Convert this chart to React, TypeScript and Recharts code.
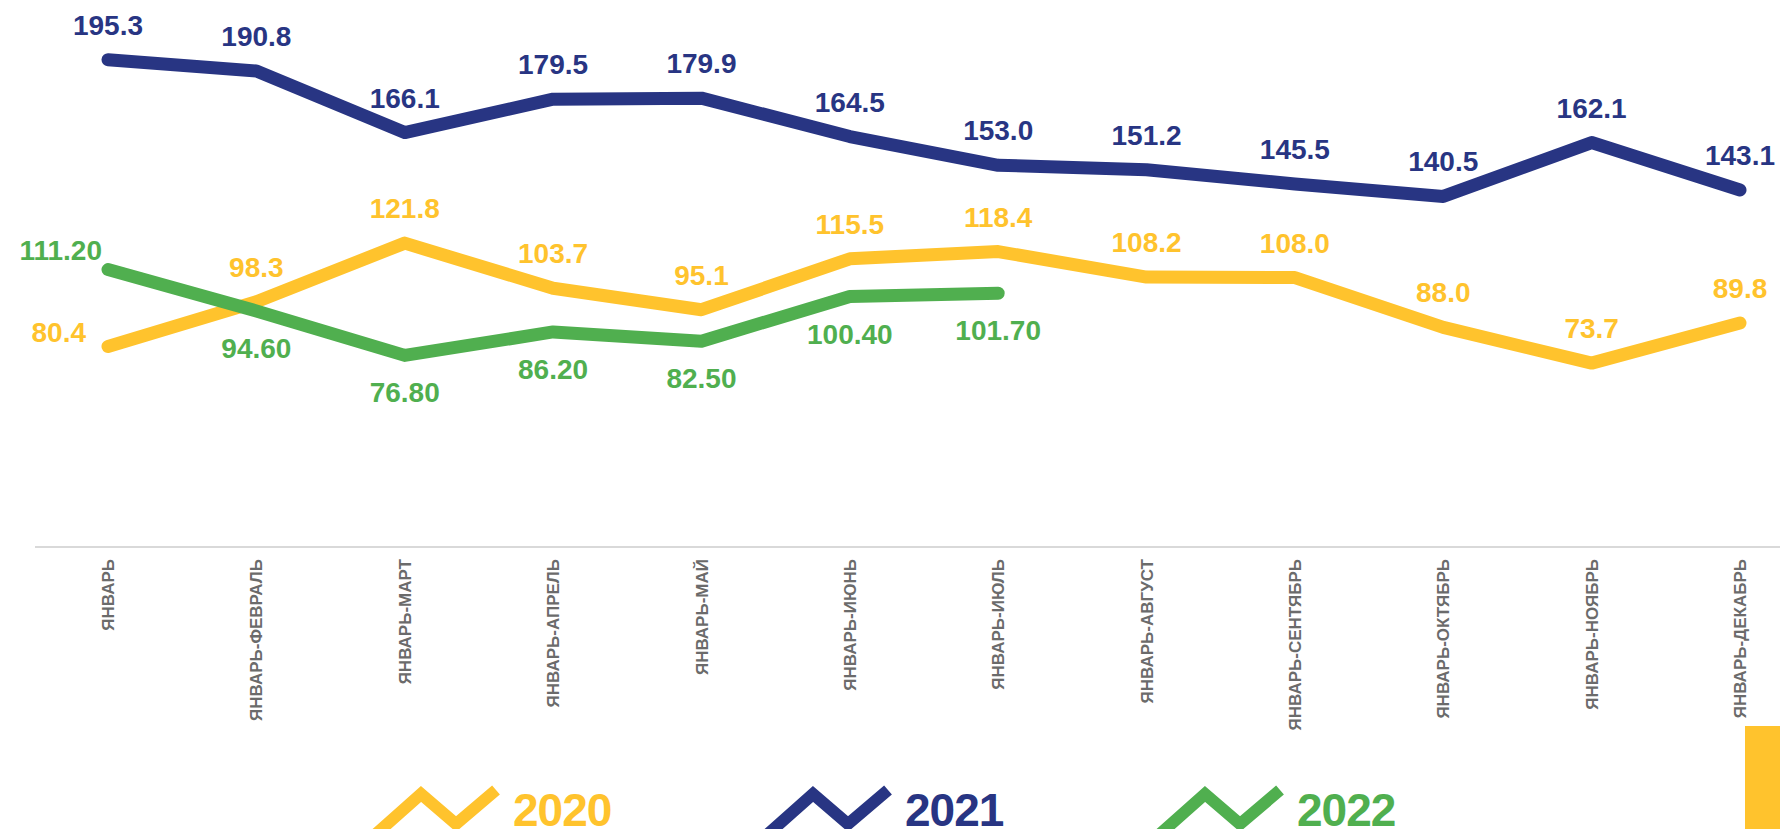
import React from 'react';
import { LineChart, Line, XAxis, YAxis } from 'recharts';

const CATEGORIES = [
  'ЯНВАРЬ',
  'ЯНВАРЬ-ФЕВРАЛЬ',
  'ЯНВАРЬ-МАРТ',
  'ЯНВАРЬ-АПРЕЛЬ',
  'ЯНВАРЬ-МАЙ',
  'ЯНВАРЬ-ИЮНЬ',
  'ЯНВАРЬ-ИЮЛЬ',
  'ЯНВАРЬ-АВГУСТ',
  'ЯНВАРЬ-СЕНТЯБРЬ',
  'ЯНВАРЬ-ОКТЯБРЬ',
  'ЯНВАРЬ-НОЯБРЬ',
  'ЯНВАРЬ-ДЕКАБРЬ',
];

const VALUES_2020 = [80.4, 98.3, 121.8, 103.7, 95.1, 115.5, 118.4, 108.2, 108.0, 88.0, 73.7, 89.8];
const VALUES_2021 = [195.3, 190.8, 166.1, 179.5, 179.9, 164.5, 153.0, 151.2, 145.5, 140.5, 162.1, 143.1];
const VALUES_2022 = [111.2, 94.6, 76.8, 86.2, 82.5, 100.4, 101.7];

const FONT = '"Liberation Sans", Arial, Helvetica, sans-serif';

const SERIES = [
  { key: 'y2020', name: '2020', color: '#FFC32D', values: VALUES_2020, digits: 1, place: 'top', leftGap: 22, leftDy: -4 },
  { key: 'y2021', name: '2021', color: '#283583', values: VALUES_2021, digits: 1, place: 'top', leftGap: 0, leftDy: 0 },
  { key: 'y2022', name: '2022', color: '#50AF4F', values: VALUES_2022, digits: 2, place: 'bottom', leftGap: 6, leftDy: -10 },
];

const data = CATEGORIES.map((name, i) => {
  const row: any = { name };
  SERIES.forEach((s) => {
    row[s.key] = i < s.values.length ? s.values[i] : null;
  });
  return row;
});

const makeLabel = (s: any) => (props: any) => {
  const { x, y, value, index } = props;
  if (value == null || x == null || y == null) return null;
  // first point of 2020 and 2022 sits to the left of the marker
  let place = s.place;
  if (index === 0 && s.leftGap > 0) place = 'left';

  let tx = x;
  let ty = y - 25;
  let anchor = 'middle';
  if (place === 'bottom') ty = y + 47;
  if (place === 'left') {
    tx = x - s.leftGap;
    ty = y + s.leftDy;
    anchor = 'end';
  }
  return (
    <text
      key={`lbl-${s.key}-${index}`}
      x={tx}
      y={ty}
      textAnchor={anchor}
      fill={s.color}
      fontSize={28}
      fontWeight="bold"
      fontFamily={FONT}
    >
      {Number(value).toFixed(s.digits)}
    </text>
  );
};

const MonthTick = ({ x, y, payload }: any) => (
  <text
    x={x}
    y={y}
    transform={`rotate(-90 ${x} ${y})`}
    textAnchor="end"
    dy="0.36em"
    fill="#6b6b6b"
    fontSize={17}
    fontWeight="bold"
    fontFamily={FONT}
  >
    {payload.value}
  </text>
);

function ZigzagLegend() {
  return (
    <svg width={1780} height={829} style={{ position: 'absolute', left: 0, top: 0, pointerEvents: 'none' }}>
      {SERIES.map((s, i) => {
        const ox = i * 392;
        return (
          <g key={s.key}>
            <polyline
              points={`${376 + ox},${834} ${421 + ox},${794} ${456 + ox},${824} ${496 + ox},${790}`}
              fill="none"
              stroke={s.color}
              strokeWidth={12}
              strokeLinejoin="miter"
            />
            <text
              x={513 + ox}
              y={826}
              fill={s.color}
              fontSize={46}
              fontWeight="bold"
              fontFamily={FONT}
              letterSpacing={-1}
            >
              {s.name}
            </text>
          </g>
        );
      })}
    </svg>
  );
}

export default function App() {
  return (
    <div
      style={{
        position: 'fixed',
        left: 0,
        top: 0,
        width: 1780,
        height: 829,
        overflow: 'hidden',
        background: '#ffffff',
        fontFamily: FONT,
      }}
    >
      <LineChart
        width={1780}
        height={829}
        data={data}
        margin={{ top: 48, right: 0, left: 35, bottom: 102 }}
      >
        <XAxis
          dataKey="name"
          interval={0}
          height={180}
          padding={{ left: 73, right: 40 }}
          axisLine={{ stroke: '#d9d9d9', strokeWidth: 2 }}
          tickLine={false}
          tickMargin={6}
          tick={<MonthTick />}
        />
        <YAxis hide domain={[0, 200]} />
        {SERIES.map((s) => (
          <Line
            key={s.key}
            dataKey={s.key}
            name={s.name}
            stroke={s.color}
            strokeWidth={13}
            strokeLinecap="round"
            strokeLinejoin="round"
            dot={false}
            activeDot={false}
            connectNulls={false}
            isAnimationActive={false}
            label={makeLabel(s)}
          />
        ))}
      </LineChart>
      <ZigzagLegend />
      <div
        style={{
          position: 'absolute',
          left: 1745,
          top: 726,
          width: 35,
          height: 103,
          background: '#FFC32D',
        }}
      />
    </div>
  );
}
